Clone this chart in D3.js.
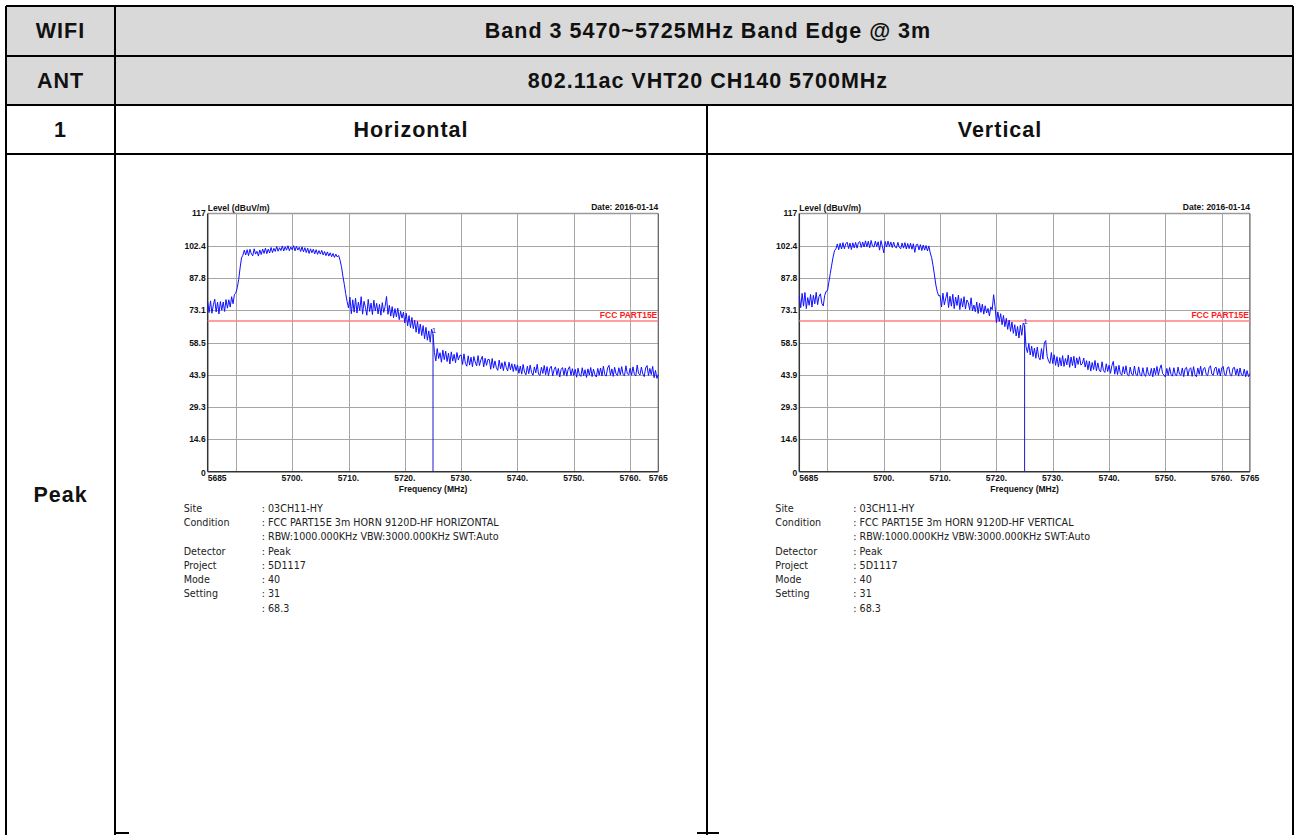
<!DOCTYPE html>
<html>
<head>
<meta charset="utf-8">
<script src="https://cdn.jsdelivr.net/npm/d3@7"></script>
<style>
  body { margin: 0; background: #fff; }
  svg text { font-family: "Liberation Sans", Arial, sans-serif; }
  .info text { font-family: "DejaVu Sans", sans-serif; }
</style>
</head>
<body>
<svg id="page" width="1298" height="835"></svg>
<script>
// ---- table text ----
var headerLabels = ["WIFI", "ANT"];
var headerTitles = ["Band 3 5470~5725MHz Band Edge @ 3m", "802.11ac VHT20 CH140 5700MHz"];
var columnTitles = ["Horizontal", "Vertical"];
var rowNumber = "1";
var rowName = "Peak";

// ---- chart axes ----
var freqStart = 5685, freqStop = 5765;
var levelTicks = [0, 14.6, 29.3, 43.9, 58.5, 73.1, 87.8, 102.4, 117];
var freqGrid = [5690, 5700, 5710, 5720, 5730, 5740, 5750, 5760];
var freqTickValues = [5685, 5700, 5710, 5720, 5730, 5740, 5750, 5760, 5765];
var freqTickText = ["5685", "5700.", "5710.", "5720.", "5730.", "5740.", "5750.", "5760.", "5765"];
var limitLevel = 68.3;
var limitName = "FCC PART15E";
var markerFreq = 5725;
var chartDate = "Date: 2016-01-14";

// ---- sweep values (dBuV/m), 5685..5765 MHz, 0.25 MHz apart ----
var levelsHorizontal = [
  76.9, 72.1, 77.4, 71.8, 75.6, 78.2, 72.4, 76.8, 71.5, 77.1, 73.2, 76.9, 72.6, 78.0, 74.1, 77.9, 74.6, 79.3, 76.1, 80.4,
  81.0, 83.4, 87.1, 92.3, 96.9, 98.1, 100.4, 98.2, 100.6, 97.9, 100.8, 98.7, 97.8, 101.0, 98.6, 99.9, 97.7, 100.5, 98.4, 100.9,
  98.9, 101.3, 98.8, 100.9, 99.1, 101.6, 99.3, 101.2, 99.8, 102.1, 99.9, 101.5, 100.2, 102.3, 100.0, 101.9, 100.4, 102.4, 100.1, 101.8,
  100.6, 102.4, 100.1, 102.2, 100.4, 101.7, 99.8, 101.9, 99.6, 101.5, 99.3, 101.3, 98.9, 101.0, 99.2, 100.8, 98.7, 100.6, 98.5, 100.2,
  98.6, 100.3, 98.2, 99.8, 97.9, 99.6, 97.7, 99.2, 97.4, 98.9, 97.1, 98.6, 97.3, 98.0, 95.8, 92.9, 88.6, 84.9, 80.7, 77.1,
  74.2, 79.1, 71.6, 77.9, 72.3, 78.6, 71.9, 76.8, 73.0, 79.3, 71.4, 77.2, 74.5, 70.9, 78.1, 72.6, 76.4, 71.2, 77.7, 72.8,
  76.3, 71.5, 75.8, 70.9, 76.6, 72.2, 74.9, 79.4, 71.3, 75.4, 70.5, 74.8, 69.8, 73.9, 70.2, 74.1, 68.9, 72.7, 69.6, 72.3,
  67.4, 71.8, 66.1, 70.7, 65.3, 69.9, 64.8, 68.6, 63.2, 68.1, 62.5, 66.9, 61.7, 66.2, 60.3, 65.4, 59.6, 63.8, 58.7, 64.6,
  62.3, 54.1, 50.2, 55.8, 51.3, 53.9, 49.6, 55.1, 50.8, 54.6, 49.9, 53.7, 48.8, 54.3, 50.1, 53.2, 49.4, 54.0, 50.6, 52.7,
  52.9, 48.6, 53.4, 49.1, 47.8, 52.5, 48.3, 51.9, 47.6, 52.2, 49.7, 47.9, 52.6, 48.1, 50.7, 52.3, 47.5, 51.4, 48.2, 50.9,
  50.8, 46.4, 51.3, 46.9, 50.2, 47.1, 45.9, 50.6, 46.6, 49.4, 45.8, 49.9, 47.3, 45.6, 49.6, 46.2, 48.9, 45.4, 48.7, 45.8,
  48.4, 44.6, 47.9, 44.2, 48.6, 45.1, 43.9, 47.8, 44.4, 48.3, 45.0, 43.7, 47.5, 44.8, 48.7, 44.1, 43.6, 47.4, 44.5, 48.1,
  43.9, 47.6, 43.5, 46.9, 47.8, 43.4, 46.3, 47.5, 43.8, 46.8, 42.9, 46.4, 47.2, 43.7, 47.0, 43.3, 46.5, 47.6, 43.6, 46.7,
  43.6, 46.4, 42.8, 46.9, 43.9, 43.2, 47.1, 43.5, 46.2, 42.7, 46.6, 43.8, 47.2, 43.1, 46.5, 43.9, 42.9, 46.8, 43.7, 47.0,
  43.4, 47.8, 44.1, 43.3, 47.0, 48.2, 43.7, 46.6, 43.2, 47.3, 44.3, 43.6, 47.1, 43.9, 47.6, 44.0, 43.5, 48.0, 44.4, 43.8,
  46.9, 43.7, 47.5, 44.1, 43.4, 48.3, 44.5, 43.8, 47.4, 44.3, 43.1, 47.0, 48.1, 43.6, 46.8, 44.0, 47.7, 42.6, 45.9, 42.3,
  44.0
];
var levelsVertical = [
  79.6, 74.3, 80.8, 75.0, 81.2, 73.9, 78.9, 75.4, 80.3, 74.6, 79.9, 76.1, 81.3, 75.7, 79.4, 80.6, 76.3, 75.1, 79.8, 81.7,
  82.0, 85.9, 89.8, 93.6, 97.3, 100.1, 101.0, 103.2, 100.6, 103.5, 100.9, 103.8, 101.0, 103.3, 104.0, 101.1, 103.6, 100.7, 103.7, 101.4,
  103.9, 101.3, 103.8, 104.3, 101.6, 104.1, 101.8, 104.6, 101.9, 104.4, 101.5, 104.8, 102.2, 101.8, 104.5, 102.0, 104.2, 100.4, 104.7, 102.1,
  99.2, 104.3, 101.8, 104.5, 102.0, 104.1, 101.6, 104.0, 101.9, 101.4, 103.9, 101.7, 101.0, 103.6, 101.3, 103.8, 100.9, 103.4, 101.1, 103.5,
  100.8, 103.3, 99.4, 102.8, 103.1, 100.5, 102.9, 100.2, 102.7, 100.4, 102.5, 100.0, 102.3, 99.1, 97.0, 93.3, 89.1, 84.6, 81.5, 79.7,
  79.8, 74.7, 80.9, 75.6, 78.6, 81.3, 74.4, 79.5, 75.0, 80.4, 73.9, 79.1, 75.3, 80.0, 73.5, 78.5, 74.6, 79.3, 73.7, 77.8,
  76.6, 73.4, 78.8, 72.9, 75.5, 72.5, 76.9, 71.7, 76.3, 72.2, 75.9, 71.4, 75.2, 71.9, 74.0, 70.6, 74.7, 73.4, 80.2, 75.0,
  67.5, 72.4, 68.1, 71.6, 66.6, 70.8, 65.7, 69.5, 64.5, 68.7, 63.6, 67.8, 62.7, 66.6, 61.5, 65.8, 60.6, 66.4, 61.8, 67.3,
  66.3, 56.6, 54.0, 58.1, 52.9, 56.9, 52.2, 56.0, 51.4, 56.5, 51.8, 50.7, 55.8, 51.0, 58.3, 59.4, 52.3, 50.2, 49.1, 54.0,
  49.0, 53.0, 48.2, 52.1, 47.5, 51.7, 47.9, 52.6, 47.7, 51.3, 48.4, 52.9, 47.3, 52.0, 48.1, 52.3, 47.0, 51.6, 48.6, 52.1,
  48.3, 49.0, 51.5, 47.4, 50.3, 46.2, 50.1, 45.6, 49.5, 46.3, 50.4, 45.7, 49.3, 46.0, 45.2, 49.8, 45.8, 45.0, 48.9, 45.4,
  48.3, 44.6, 48.1, 50.0, 44.2, 47.8, 44.0, 48.2, 44.5, 43.7, 47.6, 44.3, 48.0, 43.9, 43.4, 47.4, 44.2, 43.6, 47.9, 44.1,
  43.5, 47.5, 44.0, 43.3, 47.1, 43.8, 43.2, 47.3, 44.1, 43.6, 46.8, 43.0, 47.0, 43.9, 47.7, 43.7, 46.6, 48.4, 44.5, 43.8,
  42.9, 46.8, 43.6, 47.2, 44.1, 43.3, 47.1, 43.9, 43.5, 47.4, 44.2, 43.7, 47.0, 43.1, 46.7, 47.3, 43.4, 46.4, 47.1, 43.2,
  47.6, 43.9, 43.0, 47.0, 44.1, 47.8, 43.6, 46.7, 47.2, 44.0, 43.5, 47.1, 48.0, 44.2, 43.7, 46.9, 47.4, 43.8, 46.8, 43.4,
  47.0, 47.7, 44.0, 43.6, 47.1, 47.5, 43.9, 43.4, 46.9, 47.3, 43.8, 46.6, 43.3, 47.0, 43.9, 43.5, 46.5, 43.0, 45.8, 43.1,
  44.4
];

// ---- info text under each chart ----
var infoLabels = ["Site", "Condition", "", "Detector", "Project", "Mode", "Setting", ""];
var infoHorizontal = [": 03CH11-HY", ": FCC PART15E 3m HORN 9120D-HF HORIZONTAL", ": RBW:1000.000KHz VBW:3000.000KHz SWT:Auto", ": Peak", ": 5D1117", ": 40", ": 31", ": 68.3"];
var infoVertical = [": 03CH11-HY", ": FCC PART15E 3m HORN 9120D-HF VERTICAL", ": RBW:1000.000KHz VBW:3000.000KHz SWT:Auto", ": Peak", ": 5D1117", ": 40", ": 31", ": 68.3"];

var svg = d3.select("#page");

// ---- table ----
var tbl = { left: 6, right: 1293, col1: 115, col2: 707, rows: [6, 56, 105, 154], bottom: 835 };

svg.append("rect").attr("x", tbl.left).attr("y", tbl.rows[0])
  .attr("width", tbl.right - tbl.left).attr("height", tbl.rows[2] - tbl.rows[0])
  .attr("fill", "#d9d9d9");

var tableLines = [
  [tbl.left, tbl.rows[0], tbl.right, tbl.rows[0]],
  [tbl.left, tbl.rows[1], tbl.right, tbl.rows[1]],
  [tbl.left, tbl.rows[2], tbl.right, tbl.rows[2]],
  [tbl.left, tbl.rows[3], tbl.right, tbl.rows[3]],
  [tbl.left, tbl.rows[0], tbl.left, tbl.bottom],
  [tbl.right, tbl.rows[0], tbl.right, tbl.bottom],
  [tbl.col1, tbl.rows[0], tbl.col1, tbl.bottom],
  [tbl.col2, tbl.rows[2], tbl.col2, tbl.bottom],
  [tbl.col1, 833, tbl.col1 + 14, 833],
  [tbl.col2 - 10, 833, tbl.col2 + 12, 833]
];
svg.append("g").selectAll("line").data(tableLines).join("line")
  .attr("x1", d => d[0]).attr("y1", d => d[1]).attr("x2", d => d[2]).attr("y2", d => d[3])
  .attr("stroke", "#000").attr("stroke-width", 2).attr("shape-rendering", "crispEdges");

function cellText(x, y, txt) {
  svg.append("text").attr("x", x).attr("y", y).attr("text-anchor", "middle")
    .attr("dominant-baseline", "central").attr("font-size", 21.5).attr("font-weight", "bold")
    .attr("letter-spacing", 1).attr("fill", "#111").text(txt);
}
headerLabels.forEach((t, i) => cellText((tbl.left + tbl.col1) / 2, (tbl.rows[i] + tbl.rows[i + 1]) / 2, t));
headerTitles.forEach((t, i) => cellText((tbl.col1 + tbl.right) / 2 + 4, (tbl.rows[i] + tbl.rows[i + 1]) / 2, t));
cellText((tbl.left + tbl.col1) / 2, (tbl.rows[2] + tbl.rows[3]) / 2, rowNumber);
cellText((tbl.col1 + tbl.col2) / 2, (tbl.rows[2] + tbl.rows[3]) / 2, columnTitles[0]);
cellText((tbl.col2 + tbl.right) / 2, (tbl.rows[2] + tbl.rows[3]) / 2, columnTitles[1]);
cellText((tbl.left + tbl.col1) / 2, 495, rowName);

// ---- one spectrum chart ----
function drawChart(left, levels, info) {
  var top = 213.5, bottom = 471.7, width = 450.6;
  var right = left + width;

  var x = d3.scaleLinear().domain([freqStart, freqStop]).range([left, right]);
  var y = d3.scaleLinear().domain([0, 117]).range([bottom, top]);
  var step = (freqStop - freqStart) / (levels.length - 1);
  var points = levels.map((v, i) => ({ f: freqStart + i * step, v: v }));

  var g = svg.append("g");

  // grid
  g.append("g").selectAll("line").data(levelTicks.slice(1, -1)).join("line")
    .attr("x1", left).attr("x2", right).attr("y1", d => Math.round(y(d)) + 0.5).attr("y2", d => Math.round(y(d)) + 0.5)
    .attr("stroke", "#a6a6a6").attr("stroke-width", 1);
  g.append("g").selectAll("line").data(freqGrid).join("line")
    .attr("x1", d => Math.round(x(d)) + 0.5).attr("x2", d => Math.round(x(d)) + 0.5).attr("y1", top).attr("y2", bottom)
    .attr("stroke", "#a6a6a6").attr("stroke-width", 1);

  // frame
  g.append("line").attr("x1", left).attr("x2", right).attr("y1", top).attr("y2", top)
    .attr("stroke", "#9a9a9a").attr("stroke-width", 1.5);
  g.append("line").attr("x1", right).attr("x2", right).attr("y1", top).attr("y2", bottom)
    .attr("stroke", "#5a5a5a").attr("stroke-width", 1.2);
  g.append("line").attr("x1", left).attr("x2", left).attr("y1", top).attr("y2", bottom)
    .attr("stroke", "#333").attr("stroke-width", 1.5);
  g.append("line").attr("x1", left).attr("x2", right).attr("y1", bottom).attr("y2", bottom)
    .attr("stroke", "#333").attr("stroke-width", 1.5);

  // limit line
  g.append("line").attr("x1", left).attr("x2", right).attr("y1", y(limitLevel)).attr("y2", y(limitLevel))
    .attr("stroke", "#ff7f7f").attr("stroke-width", 1.6);
  g.append("text").attr("x", right - 1).attr("y", y(limitLevel) - 2.5).attr("text-anchor", "end")
    .attr("font-size", 8.5).attr("font-weight", "bold").attr("fill", "#ff1a1a").text(limitName);

  // trace
  var line = d3.line().x(d => x(d.f)).y(d => y(d.v));
  g.append("path").datum(points).attr("d", line)
    .attr("fill", "none").attr("stroke", "#1010ff").attr("stroke-width", 1);

  // marker
  var mk = points.find(p => Math.abs(p.f - markerFreq) < step / 2);
  g.append("line").attr("x1", x(mk.f)).attr("x2", x(mk.f)).attr("y1", y(mk.v)).attr("y2", bottom)
    .attr("stroke", "#1a1ad0").attr("stroke-width", 1);
  g.append("text").attr("x", x(mk.f) + 1).attr("y", y(mk.v) - 1).attr("text-anchor", "middle")
    .attr("font-size", 8).attr("fill", "#1a1ad0").text("1");

  // y labels
  g.append("g").selectAll("text").data(levelTicks).join("text")
    .attr("x", left - 2).attr("y", d => y(d) + (d === 0 ? 1 : 0)).attr("dy", "0.35em").attr("text-anchor", "end")
    .attr("font-size", 8.5).attr("font-weight", "bold").attr("fill", "#111").text(d => d);

  // x labels
  g.append("g").selectAll("text").data(freqTickValues).join("text")
    .attr("x", d => x(d)).attr("y", 478).attr("dy", "0.35em")
    .attr("text-anchor", (d, i) => i === 0 ? "start" : "middle")
    .attr("font-size", 8.5).attr("font-weight", "bold").attr("fill", "#111")
    .text((d, i) => freqTickText[i]);

  g.append("text").attr("x", (left + right) / 2).attr("y", 489).attr("dy", "0.35em").attr("text-anchor", "middle")
    .attr("font-size", 8.5).attr("font-weight", "bold").attr("fill", "#111").text("Frequency (MHz)");
  g.append("text").attr("x", left).attr("y", 208).attr("dy", "0.35em")
    .attr("font-size", 8.5).attr("font-weight", "bold").attr("fill", "#111").text("Level (dBuV/m)");
  g.append("text").attr("x", right).attr("y", 207).attr("dy", "0.35em").attr("text-anchor", "end")
    .attr("font-size", 8.5).attr("font-weight", "bold").attr("fill", "#111").text(chartDate);

  // info block
  var ib = svg.append("g").attr("class", "info");
  infoLabels.forEach((t, i) => {
    var yy = 508.3 + i * 14.28;
    ib.append("text").attr("x", left - 24).attr("y", yy).attr("dy", "0.35em")
      .attr("font-size", 9.6).attr("fill", "#222").text(t);
    ib.append("text").attr("x", left + 54).attr("y", yy).attr("dy", "0.35em")
      .attr("font-size", 9.6).attr("fill", "#222").text(info[i]);
  });
}

drawChart(207.7, levelsHorizontal, infoHorizontal);
drawChart(799.3, levelsVertical, infoVertical);
</script>
</body>
</html>
